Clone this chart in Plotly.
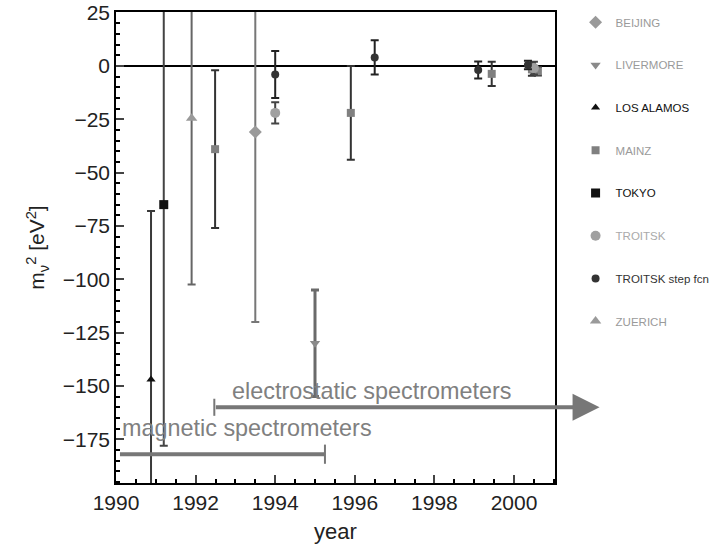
import plotly.graph_objects as go

# ---- data ----
beijing_year = [1993.5]
beijing_m2 = [-31.0]
beijing_err = [89.0]

livermore_year = [1995.0]
livermore_m2 = [-130.0]
livermore_err = [25.0]

losalamos_year = [1990.88]
losalamos_m2 = [-147.0]
losalamos_err = [79.0]

mainz_year = [1992.49, 1995.9, 1999.44, 2000.45, 2000.6]
mainz_m2 = [-39.0, -22.0, -3.7, -1.6, -2.5]
mainz_err = [37.0, 22.0, 5.7, 3.0, 2.0]

tokyo_year = [1991.2]
tokyo_m2 = [-65.0]
tokyo_err = [113.0]

troitsk_year = [1994.0, 2000.5]
troitsk_m2 = [-22.0, -1.0]
troitsk_err = [5.0, 3.0]

troitsk_step_year = [1994.0, 1996.5, 1999.1, 2000.35]
troitsk_step_m2 = [-4.0, 4.0, -1.9, 0.5]
troitsk_step_err = [11.0, 8.0, 4.0, 2.0]

zuerich_year = [1991.9]
zuerich_m2 = [-24.5]
zuerich_err = [78.0]

magnetic_span = [1990.1, 1995.25]
magnetic_level = -182.0
electrostatic_span = [1992.47, 2002.15]
electrostatic_level = -160.0

x_ticks = [1990, 1992, 1994, 1996, 1998, 2000]
y_ticks = [25, 0, -25, -50, -75, -100, -125, -150, -175]

series = [
    ("BEIJING", beijing_year, beijing_m2, beijing_err),
    ("LIVERMORE", livermore_year, livermore_m2, livermore_err),
    ("LOS ALAMOS", losalamos_year, losalamos_m2, losalamos_err),
    ("MAINZ", mainz_year, mainz_m2, mainz_err),
    ("TOKYO", tokyo_year, tokyo_m2, tokyo_err),
    ("TROITSK", troitsk_year, troitsk_m2, troitsk_err),
    ("TROITSK step fcn", troitsk_step_year, troitsk_step_m2, troitsk_step_err),
    ("ZUERICH", zuerich_year, zuerich_m2, zuerich_err),
]

# ---- styles ----
styles = {
    "BEIJING": dict(symbol="diamond", color="#9a9a9a", size=10, err="#777777", ew=2, text="#9a9a9a"),
    "LIVERMORE": dict(symbol="triangle-down", color="#8a8a8a", size=9, err="#6a6a6a", ew=3, text="#9a9a9a"),
    "LOS ALAMOS": dict(symbol="triangle-up", color="#111111", size=8, err="#3a3a3a", ew=2, text="#111111"),
    "MAINZ": dict(symbol="square", color="#808080", size=8, err="#333333", ew=2, text="#9a9a9a"),
    "TOKYO": dict(symbol="square", color="#111111", size=9, err="#444444", ew=2, text="#111111"),
    "TROITSK": dict(symbol="circle", color="#a0a0a0", size=10, err="#444444", ew=2, text="#aaaaaa"),
    "TROITSK step fcn": dict(symbol="circle", color="#333333", size=8, err="#222222", ew=2, text="#333333"),
    "ZUERICH": dict(symbol="triangle-up", color="#9a9a9a", size=10, err="#666666", ew=2, text="#9a9a9a"),
}

fig = go.Figure()
for i, (name, xs, ys, es) in enumerate(series):
    st = styles[name]
    fig.add_trace(go.Scatter(
        x=xs, y=ys, mode="markers",
        name="<span style='color:%s'>%s</span>" % (st["text"], name),
        legendgroup="g%d" % i,
        marker=dict(symbol=st["symbol"], color=st["color"], size=st["size"],
                    line=dict(width=0)),
        error_y=dict(type="data", array=es, visible=True, color=st["err"],
                     thickness=st["ew"], width=4),
        cliponaxis=True,
    ))

bar_color = "#777777"
shapes = [
    dict(type="line", xref="x", yref="y", x0=magnetic_span[0], x1=magnetic_span[1],
         y0=magnetic_level, y1=magnetic_level, line=dict(color=bar_color, width=4)),
    dict(type="line", xref="x", yref="y", x0=magnetic_span[1], x1=magnetic_span[1],
         y0=magnetic_level - 4.5, y1=magnetic_level + 4.5, line=dict(color=bar_color, width=2)),
    dict(type="line", xref="x", yref="y", x0=electrostatic_span[0], x1=electrostatic_span[0],
         y0=electrostatic_level - 4, y1=electrostatic_level + 4, line=dict(color=bar_color, width=2)),
]

annotations = [
    dict(x=electrostatic_span[1], y=electrostatic_level, ax=electrostatic_span[0],
         ay=electrostatic_level, xref="x", yref="y", axref="x", ayref="y",
         text="", showarrow=True, arrowhead=2, arrowsize=1.35, arrowwidth=4,
         arrowcolor=bar_color),
    dict(x=1996.44, y=-152.5, xref="x", yref="y", text="electrostatic spectrometers",
         showarrow=False, font=dict(size=23.4, color="#808080", family="Liberation Sans")),
    dict(x=1993.29, y=-169.7, xref="x", yref="y", text="magnetic spectrometers",
         showarrow=False, font=dict(size=23.4, color="#808080", family="Liberation Sans")),
]

fig.update_layout(
    width=715, height=549,
    margin=dict(l=116, r=160, t=12, b=66, autoexpand=False),
    paper_bgcolor="white", plot_bgcolor="white",
    font=dict(family="Liberation Sans", color="#222222"),
    showlegend=True,
    legend=dict(xref="container", yref="container", x=0.805, y=0.986,
                xanchor="left", yanchor="top", tracegroupgap=23.7, maxheight=600,
                font=dict(size=11.5, family="Liberation Sans"),
                bgcolor="rgba(0,0,0,0)"),
    shapes=shapes,
    annotations=annotations,
    xaxis=dict(range=[1990, 2001.03], tickvals=x_ticks, ticks="inside", ticklen=8,
               tickwidth=1.5, showline=True, linecolor="black", linewidth=1.5,
               mirror=True, showgrid=False, zeroline=False, automargin=False,
               tickfont=dict(size=21, color="#222222"),
               minor=dict(dtick=0.5, ticks="inside", ticklen=4, tickcolor="black"),
               title=dict(text="year", font=dict(size=22, color="#222222"), standoff=11)),
    yaxis=dict(range=[-195.5, 25.3], tickvals=y_ticks, ticks="inside", ticklen=8,
               tickwidth=1.5, showline=True, linecolor="black", linewidth=1.5,
               mirror=True, showgrid=False, zeroline=True, zerolinecolor="black",
               zerolinewidth=2, automargin=False,
               tickfont=dict(size=21, color="#222222"),
               minor=dict(dtick=5, ticks="inside", ticklen=4, tickcolor="black"),
               title=dict(text="m<sub>ν</sub><sup>2</sup> [eV<sup>2</sup>]",
                          font=dict(size=21, color="#222222"), standoff=12)),
)

fig.write_html("out.html")
